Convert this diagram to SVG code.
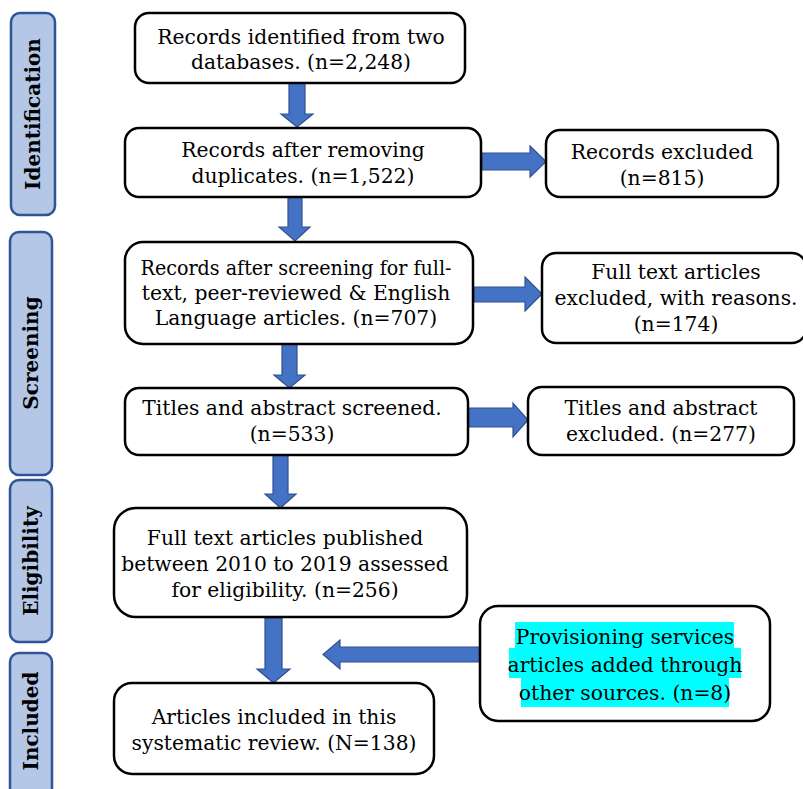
<svg xmlns="http://www.w3.org/2000/svg" width="803" height="789" viewBox="0 0 803 789">
<style>
.box{fill:#fff;stroke:#000;stroke-width:2.5}
.side{fill:#B4C7E7;stroke:#2F5597;stroke-width:2.5}
.arr{fill:#4472C4;stroke:#2F528F;stroke-width:1.2}
.t{font-family:"DejaVu Serif","Liberation Serif",serif;font-size:20.3px;fill:#000;text-anchor:middle}
.s{font-family:"DejaVu Serif","Liberation Serif",serif;font-size:20px;font-weight:bold;fill:#000;text-anchor:middle}
.hl{fill:#00FFFF}
</style>
<g id="side-identification">
<rect class="side" x="11" y="13" width="44" height="202" rx="9"/>
<text class="s" transform="translate(40,114) rotate(-90)">Identification</text>
</g>
<g id="side-screening">
<rect class="side" x="10" y="232" width="42" height="243" rx="9"/>
<text class="s" transform="translate(38,353) rotate(-90)">Screening</text>
</g>
<g id="side-eligibility">
<rect class="side" x="10" y="480" width="42" height="162" rx="9"/>
<text class="s" transform="translate(38,561) rotate(-90)">Eligibility</text>
</g>
<g id="side-included">
<rect class="side" x="10" y="653" width="42" height="150" rx="9"/>
<text class="s" transform="translate(38,721) rotate(-90)">Included</text>
</g>
<g id="connectors">
<polygon class="arr" points="289,83 305,83 305,114 313,114 297,127 281,114 289,114"/>
<polygon class="arr" points="288,197 302,197 302,227 310,227 295,241 279,227 288,227"/>
<polygon class="arr" points="282,344 297,344 297,375 305,375 289.5,388 274,375 282,375"/>
<polygon class="arr" points="273,455 288,455 288,494 296,494 280.5,508 265,494 273,494"/>
<polygon class="arr" points="265,618 282,618 282,669 290,669 273.5,683 257,669 265,669"/>
<polygon class="arr" points="482,153 530,153 530,146 546,161.5 530,177 530,170 482,170"/>
<polygon class="arr" points="474,287 525,287 525,277 542,294 525,311 525,302 474,302"/>
<polygon class="arr" points="468,408 513,408 513,403 528,420 513,437 513,427 468,427"/>
<polygon class="arr" points="481,647 340,647 340,640 323,654.5 340,669 340,662 481,662"/>
</g>
<g id="n1">
<rect class="box" x="135" y="13" width="330" height="70" rx="14"/>
<text class="t" x="301" y="44">Records identified from two</text>
<text class="t" x="301" y="69">databases. (n=2,248)</text>
</g>
<g id="n2">
<rect class="box" x="125" y="128" width="356" height="69" rx="14"/>
<text class="t" x="303" y="157">Records after removing</text>
<text class="t" x="303" y="183">duplicates. (n=1,522)</text>
</g>
<g id="n2x">
<rect class="box" x="546" y="130" width="232" height="67" rx="14"/>
<text class="t" x="662" y="159">Records excluded</text>
<text class="t" x="662" y="185">(n=815)</text>
</g>
<g id="n3">
<rect class="box" x="125" y="242" width="348" height="102" rx="18"/>
<text class="t" x="296" y="275" textLength="311" lengthAdjust="spacingAndGlyphs">Records after screening for full-</text>
<text class="t" x="296" y="300">text, peer-reviewed &amp; English</text>
<text class="t" x="296" y="325">Language articles. (n=707)</text>
</g>
<g id="n3x">
<rect class="box" x="542" y="253" width="264" height="90" rx="14"/>
<text class="t" x="676" y="279">Full text articles</text>
<text class="t" x="676" y="305">excluded, with reasons.</text>
<text class="t" x="676" y="331">(n=174)</text>
</g>
<g id="n4">
<rect class="box" x="125" y="388" width="343" height="67" rx="14"/>
<text class="t" x="292" y="415">Titles and abstract screened.</text>
<text class="t" x="292" y="441">(n=533)</text>
</g>
<g id="n4x">
<rect class="box" x="528" y="387" width="266" height="68" rx="14"/>
<text class="t" x="661" y="415">Titles and abstract</text>
<text class="t" x="661" y="441">excluded. (n=277)</text>
</g>
<g id="n5">
<rect class="box" x="114" y="508" width="353" height="109" rx="22"/>
<text class="t" x="285" y="545">Full text articles published</text>
<text class="t" x="285" y="571">between 2010 to 2019 assessed</text>
<text class="t" x="285" y="597">for eligibility. (n=256)</text>
</g>
<g id="n6">
<rect class="box" x="114" y="683" width="320" height="91" rx="18"/>
<text class="t" x="274" y="724">Articles included in this</text>
<text class="t" x="274" y="750">systematic review. (N=138)</text>
</g>
<g id="n7">
<rect class="box" x="480" y="606" width="290" height="115" rx="18"/>
<rect class="hl" x="515" y="622" width="219" height="26"/>
<rect class="hl" x="509" y="648" width="232" height="30"/>
<rect class="hl" x="521" y="678" width="208" height="29"/>
<text class="t" x="625" y="644">Provisioning services</text>
<text class="t" x="625" y="672">articles added through</text>
<text class="t" x="625" y="700">other sources. (n=8)</text>
</g>
</svg>
